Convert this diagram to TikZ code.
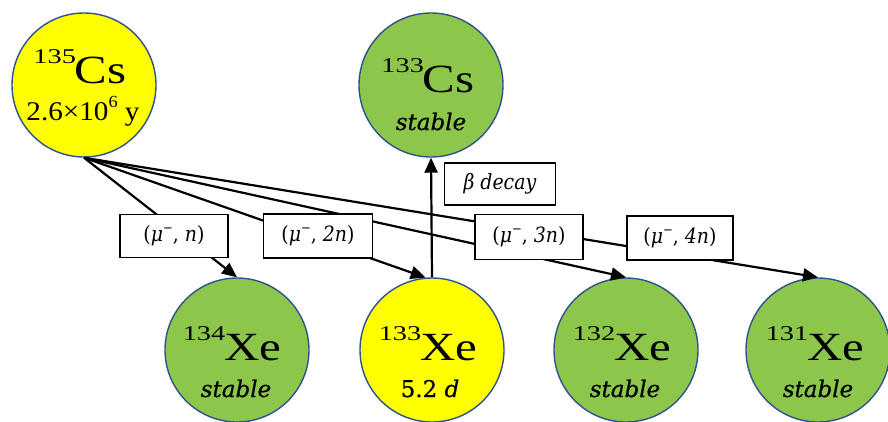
\documentclass[tikz,border=0pt]{standalone}
\usepackage{fontspec}
\setmainfont{Liberation Serif}
\newfontfamily\bigserif[FakeStretch=1.22]{Liberation Serif}
\newfontfamily\midserif[FakeStretch=1.08]{Liberation Serif}
\newfontfamily\supserif[FakeStretch=1.35]{Liberation Serif}
\newfontfamily\cambr[FakeBold=0.6]{DejaVu Serif}
\newfontfamily\cambrlab[FakeStretch=0.9]{DejaVu Serif}
\usetikzlibrary{arrows.meta}
\definecolor{nucgreen}{HTML}{8CC74C}
\definecolor{nucyellow}{HTML}{FFFF00}
\definecolor{nucborder}{HTML}{2F528F}
\tikzset{
  nuc/.style={circle,draw=nucborder,line width=1.4pt,minimum size=144pt,inner sep=0pt},
  stablenuc/.style={nuc,fill=nucgreen},
  unstablenuc/.style={nuc,fill=nucyellow},
  sym/.style={anchor=base,inner sep=0pt,font=\bigserif\fontsize{40}{40}\selectfont},
  sub/.style={anchor=base,inner sep=0pt,font=\cambr\fontsize{23}{23}\selectfont},
  halflife/.style={anchor=base,inner sep=0pt,font=\midserif\fontsize{27}{27}\selectfont},
  reac/.style={draw=black,fill=white,line width=1.2pt,inner sep=0pt,font=\cambrlab\fontsize{21}{21}\selectfont},
  flow/.style={line width=2.2pt,-{Triangle[length=15pt,width=13pt]}}
}
\newcommand{\iso}[2]{\raisebox{0.5em}{\supserif\fontsize{21}{21}\selectfont #1}\kern-1pt#2}
\newcommand{\mureac}[1]{(\textit{μ}\raisebox{0.45em}{\fontsize{13}{13}\selectfont −}, \textit{#1})}
\begin{document}
\begin{tikzpicture}[x=1pt,y=-1pt]
\useasboundingbox (0,0) rectangle (888,421);
\fill[white] (0,0) rectangle (888,421);
% nuclides
\node[unstablenuc] (cs135) at (84,85) {};
\node[stablenuc] (cs133) at (431,85) {};
\node[stablenuc] (xe134) at (237,350) {};
\node[unstablenuc] (xe133) at (432,350) {};
\node[stablenuc] (xe132) at (626,350) {};
\node[stablenuc] (xe131) at (818,350) {};
% texts
\node[sym] (cs135a) at (80,83) {\iso{135}{Cs}};
\node[halflife] (cs135b) at (83,120) {2.6×10\raisebox{0.45em}{\fontsize{17}{17}\selectfont 6} y};
\node[sym] (cs133a) at (428,92) {\iso{133}{Cs}};
\node[sub] (cs133b) at (431,130) {\textit{stable}};
\node[sym] (xe134a) at (232,360) {\iso{134}{Xe}};
\node[sub] (xe134b) at (236,397) {\textit{stable}};
\node[sym] (xe133a) at (428,360) {\iso{133}{Xe}};
\node[sub] (xe133b) at (430,397) {5.2 \textit{d}};
\node[sym] (xe132a) at (622,360) {\iso{132}{Xe}};
\node[sub] (xe132b) at (625,397) {\textit{stable}};
\node[sym] (xe131a) at (815,360) {\iso{131}{Xe}};
\node[sub] (xe131b) at (818,397) {\textit{stable}};
% connectors
\draw[flow] (cs135.south) -- (xe134.north);
\draw[flow] (cs135.south) -- (xe133.95);
\draw[flow] (cs135.south) -- (xe132.north);
\draw[flow] (cs135.south) -- (xe131.north);
\draw[flow] (xe133.north) -- (cs133.south);
% reaction labels
\node[reac,minimum width=108pt,minimum height=43pt] (r1) at (174,236) {\mureac{n}};
\node[reac,minimum width=109pt,minimum height=44pt] (r2) at (318,236) {\mureac{2n}};
\node[reac,minimum width=108pt,minimum height=45pt] (r3) at (529,237) {\mureac{3n}};
\node[reac,minimum width=106pt,minimum height=44pt] (r4) at (680,238) {\mureac{4n}};
\node[reac,minimum width=111pt,minimum height=42pt] (beta) at (500,184) {\textit{β decay}};
\end{tikzpicture}
\end{document}
